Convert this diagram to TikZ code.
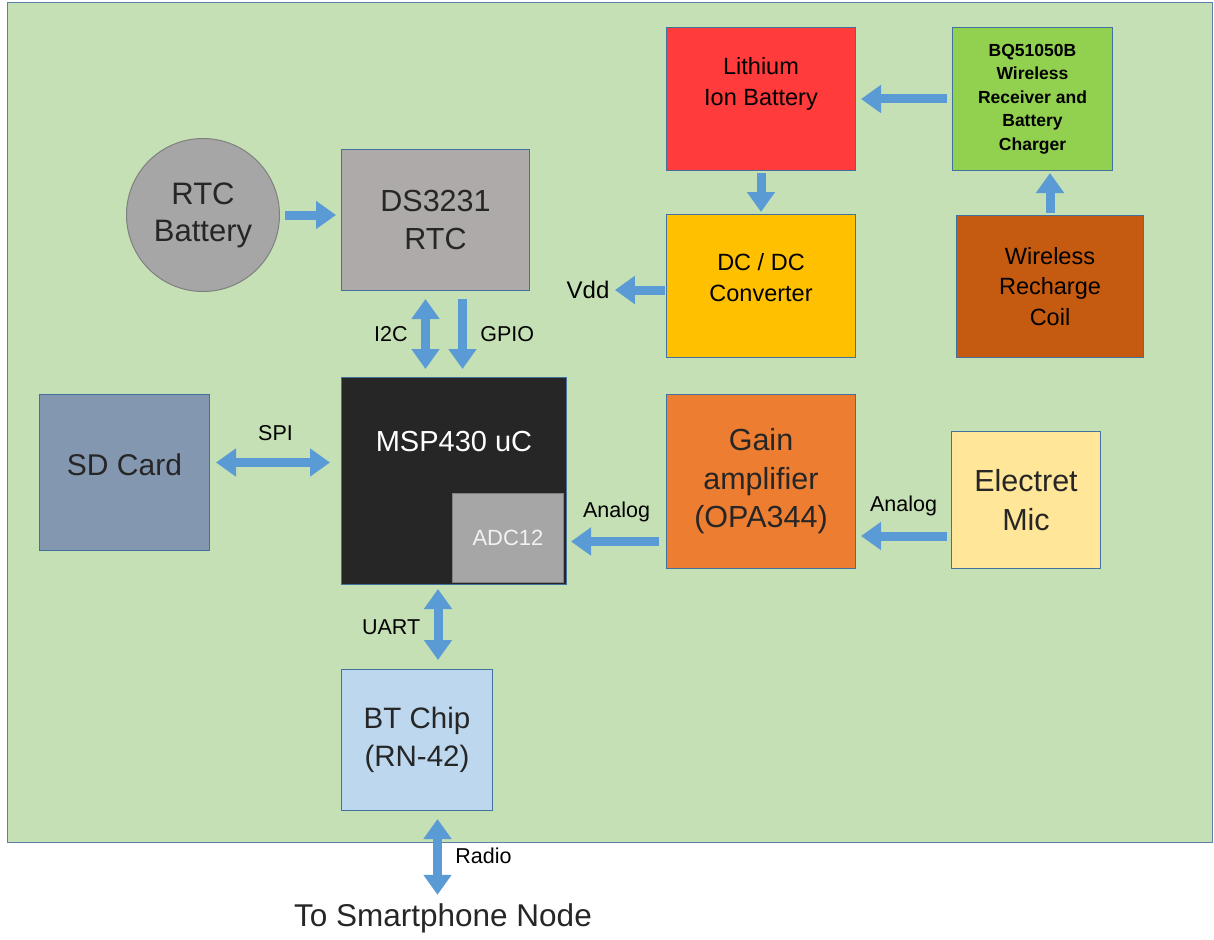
\documentclass[tikz,border=0pt]{standalone}
\usepackage{fontspec}
\setmainfont{Liberation Sans}
\usetikzlibrary{arrows.meta}
\definecolor{bggreen}{HTML}{C5E0B4}
\definecolor{bgline}{HTML}{5B7FA6}
\definecolor{boxline}{HTML}{41719C}
\definecolor{arrowblue}{HTML}{5B9BD5}
\definecolor{battgray}{HTML}{A6A6A6}
\definecolor{rtcgray}{HTML}{AEAAAA}
\definecolor{lithred}{HTML}{FF3B3B}
\definecolor{bqgreen}{HTML}{92D050}
\definecolor{dcyellow}{HTML}{FFC000}
\definecolor{coilbrown}{HTML}{C55A11}
\definecolor{mspblack}{HTML}{262626}
\definecolor{adcgray}{HTML}{A6A6A6}
\definecolor{sdblue}{HTML}{8497B0}
\definecolor{gainorange}{HTML}{ED7D31}
\definecolor{micyellow}{HTML}{FFE699}
\definecolor{btblue}{HTML}{BDD7EE}
\begin{document}
\begin{tikzpicture}[x=1pt, y=-1pt,
    base/.style={rectangle, draw=boxline, line width=1pt, inner sep=0pt, align=center, anchor=north west},
    small/.style={font=\fontsize{23.5}{30.5}\selectfont},
    large/.style={font=\fontsize{30.5}{38.5}\selectfont},
    tag/.style={font=\fontsize{21.5}{26}\selectfont},
    link/.style={draw=arrowblue, line width=9pt, >={Triangle[length=20pt,width=27pt]}, ->, shorten <=5pt, shorten >=5pt},
    duplex/.style={link, <->}]
  \useasboundingbox (0,0) rectangle (1214,939);
  \draw[bgline, fill=bggreen, line width=1pt] (7,3) rectangle (1212,842);
  \node[circle, draw=gray, line width=1pt, fill=battgray, minimum size=153pt, inner sep=0pt, align=center,
        font=\fontsize{31}{37}\selectfont, text=mspblack] (batt) at (203,215) {RTC\\Battery};
  \node[base, large, fill=rtcgray, minimum width=188pt, minimum height=141pt, text=mspblack] (rtc) at (341,149) {DS3231\\RTC};
  \node[base, small, fill=lithred, minimum width=189pt, minimum height=143pt] (lion) at (666,27)
        {\raisebox{9pt}[0pt][0pt]{\begin{tabular}{@{}c@{}}Lithium\\Ion Battery\end{tabular}}};
  \node[base, fill=bqgreen, minimum width=160pt, minimum height=143pt, font=\bfseries\fontsize{17.5}{23.5}\selectfont] (bq) at (952,27)
        {BQ51050B\\Wireless\\Receiver and\\Battery\\Charger};
  \node[base, small, fill=dcyellow, minimum width=189pt, minimum height=143pt] (dcdc) at (666,214)
        {\raisebox{0pt}[0pt][0pt]{\begin{tabular}{@{}c@{}}DC / DC\\Converter\end{tabular}}};
  \node[base, small, fill=coilbrown, minimum width=187pt, minimum height=142pt] (coil) at (956,215) {Wireless\\Recharge\\Coil};
  \node[base, fill=mspblack, minimum width=225pt, minimum height=207pt, text=white,
        font=\fontsize{29}{34}\selectfont, text height=74pt, text depth=133pt] (msp) at (341,377) {MSP430 uC};
  \node[base, draw=gray, fill=adcgray, minimum width=111pt, minimum height=89pt, text=white!90!gray,
        font=\fontsize{22}{26}\selectfont] (adc) at (452,493) {ADC12};
  \node[base, fill=sdblue, minimum width=170pt, minimum height=156pt, font=\fontsize{30}{36}\selectfont,
        text=mspblack] (sd) at (39,394) {\raisebox{-3pt}[0pt][0pt]{SD Card}};
  \node[base, large, fill=gainorange, minimum width=189pt, minimum height=174pt, text=mspblack] (gain) at (666,394)
        {Gain\\amplifier\\(OPA344)};
  \node[base, large, fill=micyellow, minimum width=149pt, minimum height=137pt, text=mspblack] (mic) at (951,431)
        {Electret\\Mic};
  \node[base, fill=btblue, minimum width=151pt, minimum height=141pt, font=\fontsize{29.5}{38}\selectfont,
        text=mspblack] (bt) at (341,669) {BT Chip\\(RN-42)};
  \node[font=\fontsize{24}{28}\selectfont] (vdd) at (588,290) {Vdd};
  \node[font=\fontsize{31.5}{36}\selectfont, text=mspblack] (phone) at (443,918) {To Smartphone Node};
  \draw[link] (batt.east) -- (batt.east -| rtc.west);
  \draw[link] (bq.west) -- (lion.east);
  \draw[link, shorten <=2pt, shorten >=2pt] (lion.south) -- (dcdc.north);
  \draw[link, shorten <=2pt, shorten >=2pt] (coil.north) -- (coil.north |- bq.south);
  \draw[link, shorten <=1pt, shorten >=2pt] (dcdc.west |- vdd) -- (vdd);
  \draw[duplex, shorten <=8pt, shorten >=8pt] ([xshift=-10pt]rtc.south) -- ([xshift=-10pt]rtc.south |- msp.north)
        node[tag, midway, left=10pt] {I2C};
  \draw[link, shorten <=8pt, shorten >=8pt] ([xshift=27pt]rtc.south) -- ([xshift=27pt]rtc.south |- msp.north)
        node[tag, midway, right=10pt] {GPIO};
  \draw[duplex, shorten <=6pt, shorten >=11pt] ([yshift=10pt]sd.east) -- ([yshift=10pt]sd.east -| msp.west)
        node[tag, midway, above=14pt] {SPI};
  \draw[link, shorten <=7pt, shorten >=4pt] ([yshift=-60pt]gain.west) -- ([yshift=-60pt]gain.west -| msp.east)
        node[tag, midway, above=12pt] {Analog};
  \draw[link, shorten <=4pt, shorten >=5pt] ([yshift=-36pt]mic.west) -- ([yshift=-36pt]mic.west -| gain.east)
        node[tag, midway, above=12pt] {Analog};
  \draw[duplex, shorten <=4pt, shorten >=9pt] ([xshift=-16pt]msp.south) -- ([xshift=-16pt]msp.south |- bt.north)
        node[tag, midway, left=10pt] {UART};
  \draw[duplex, shorten <=8pt, shorten >=5pt] ([xshift=20.5pt]bt.south) -- ([xshift=20.5pt]bt.south |- phone.north)
        node[tag, midway, right=10pt] {Radio};
\end{tikzpicture}
\end{document}
